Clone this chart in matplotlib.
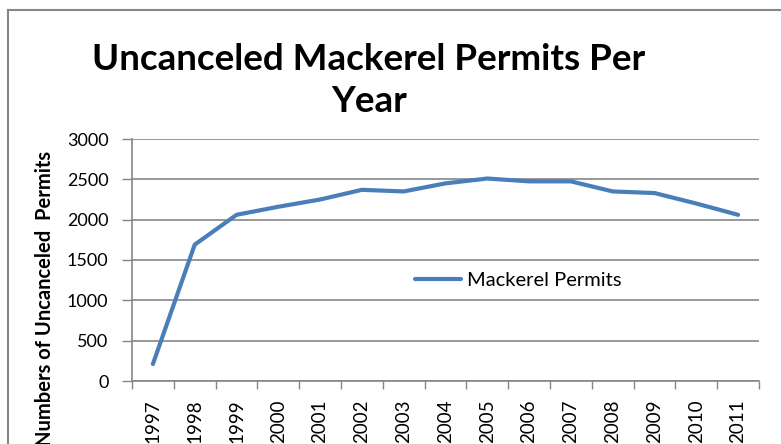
import matplotlib
matplotlib.use("Agg")
import matplotlib.pyplot as plt
from matplotlib.lines import Line2D

# data
years = ['1997', '1998', '1999', '2000', '2001', '2002', '2003', '2004',
         '2005', '2006', '2007', '2008', '2009', '2010', '2011']
permits = [210, 1690, 2060, 2160, 2250, 2370, 2350, 2450,
           2510, 2475, 2475, 2350, 2330, 2200, 2060]
y_ticks = [0, 500, 1000, 1500, 2000, 2500, 3000]

plt.rcParams['font.family'] = ['Lato', 'DejaVu Sans']
grey = '#868686'

fig = plt.figure(figsize=(7.81, 4.44), dpi=100)
ax = fig.add_axes([132 / 781, 1 - 381 / 444, 627 / 781, 242 / 444])

x = list(range(len(years)))
ax.plot(x, permits, color='#4A7EBB', linewidth=3, solid_capstyle='round',
        label='Mackerel Permits')

ax.set_xlim(-0.5, len(years) - 0.5)
ax.set_ylim(0, 3000)
ax.set_yticks(y_ticks)
ax.set_yticklabels([str(v) for v in y_ticks])

# ticks between the categories, labels at the centres
ax.set_xticks([i - 0.5 for i in range(len(years) + 1)])
ax.set_xticklabels([])
ax.set_xticks(x, minor=True)
ax.set_xticklabels(years, minor=True, rotation=90)
ax.tick_params(axis='x', which='major', length=6, width=1, color=grey, direction='out')
ax.tick_params(axis='x', which='minor', length=0, pad=13, labelsize=13.5)
ax.tick_params(axis='y', length=7, width=1, color=grey, pad=10, labelsize=13)

ax.grid(axis='y', color=grey, linewidth=1.2)
ax.set_axisbelow(True)
for side in ['top', 'right']:
    ax.spines[side].set_visible(False)
for side in ['left', 'bottom']:
    ax.spines[side].set_color(grey)
    ax.spines[side].set_linewidth(1.2)

ax.legend(loc='center left', bbox_to_anchor=(0.451, 0.417), frameon=False,
          fontsize=14.5, handlelength=2.3, handletextpad=0.3,
          borderpad=0, borderaxespad=0)

# title and y label
fig.text(369 / 781, 1 - 70 / 444, 'Uncanceled Mackerel Permits Per',
         ha='center', va='baseline', fontsize=26.5, fontweight='bold')
fig.text(369 / 781, 1 - 112 / 444, 'Year',
         ha='center', va='baseline', fontsize=26.5, fontweight='bold')
fig.text(45 / 781, 1 - 298 / 444, 'Numbers of Uncanceled  Permits',
         rotation=90, ha='center', va='center', fontsize=14.5, fontweight='bold')

# outer chart border
fig.add_artist(Line2D([8 / 781, 8 / 781], [0, 1 - 10 / 444], color=grey, linewidth=1.5))
fig.add_artist(Line2D([8 / 781, 1], [1 - 10 / 444, 1 - 10 / 444], color=grey, linewidth=1.5))

fig.savefig('out.png', dpi=100)
